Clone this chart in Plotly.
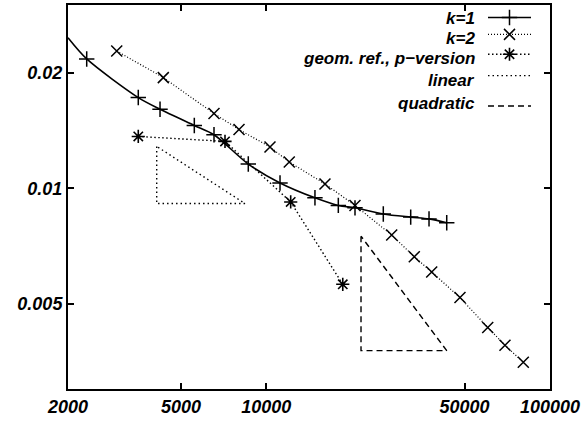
import plotly.graph_objects as go

# ---------------- data ----------------
k1_x = [2328, 3538, 4221, 5575, 6541, 8640, 11178, 14843, 17942, 20543, 25848, 32285, 37460, 43250]
k1_y = [0.02171, 0.01722, 0.01606, 0.01457, 0.01378, 0.01156, 0.01032, 0.00944, 0.00902, 0.00889,
        0.00857, 0.00841, 0.00832, 0.00813]
# the k=1 curve continues to the left edge of the plot
k1_curve_x = [2000] + k1_x
k1_curve_y = [0.02465] + k1_y

k2_x = [2970, 4335, 6541, 8013, 10304, 12050, 16100, 20543, 27670, 33240, 38280, 48160, 60320, 69390, 80520]
k2_y = [0.02277, 0.01941, 0.01565, 0.01422, 0.0128, 0.0117, 0.01026, 0.00902, 0.00755, 0.00663,
        0.00605, 0.00519, 0.00434, 0.00390, 0.00352]

geo_x = [3538, 7152, 12190, 18600]
geo_y = [0.01364, 0.01324, 0.00921, 0.00562]

lin_x = [4109, 4109, 8412, 4109]
lin_y = [0.01285, 0.00912, 0.00912, 0.01285]

quad_x = [21570, 21570, 43250, 21570]
quad_y = [0.00750, 0.003775, 0.003775, 0.00750]

x_ticks = [2000, 5000, 10000, 50000, 100000]
x_ticklabels = ["2000", "5000", "10000", "50000", "100000"]
y_ticks = [0.005, 0.01, 0.02]
y_ticklabels = ["0.005", "0.01", "0.02"]

legend_labels = ["k=1", "k=2", "geom. ref., p\u2212version", "linear", "quadratic"]

# ---------------- styling ----------------
W, H = 584, 421
ML, MR, MT, MB = 68, 34, 3, 32
FONT = dict(family="Liberation Sans, Arial, sans-serif", size=18, color="black",
            weight="bold", style="italic")
KEY_FONT = dict(family="Liberation Sans, Arial, sans-serif", size=17, color="black",
                weight="bold", style="italic")
BLACK = "black"
K2_DASH = "1px,2px"
GEO_DASH = "1.5px,2.5px"
LIN_DASH = "1.5px,3px"
QUAD_DASH = "6px,4px"
MSIZE = 11

fig = go.Figure()

# k=1
fig.add_trace(go.Scatter(x=k1_curve_x, y=k1_curve_y, mode="lines",
                         line=dict(color=BLACK, width=1.6, shape="spline", smoothing=0.8),
                         showlegend=False, hoverinfo="skip"))
fig.add_trace(go.Scatter(x=k1_x, y=k1_y, mode="markers", name=legend_labels[0],
                         marker=dict(symbol="cross-thin", size=MSIZE, line=dict(color=BLACK, width=1.5)),
                         showlegend=False))
# k=2
fig.add_trace(go.Scatter(x=k2_x, y=k2_y, mode="lines+markers", name=legend_labels[1],
                         line=dict(color=BLACK, width=1.2, dash=K2_DASH),
                         marker=dict(symbol="x-thin", size=MSIZE, line=dict(color=BLACK, width=1.5)),
                         showlegend=False))
# geometric refinement
fig.add_trace(go.Scatter(x=geo_x, y=geo_y, mode="lines+markers", name=legend_labels[2],
                         line=dict(color=BLACK, width=1.4, dash=GEO_DASH),
                         marker=dict(symbol="asterisk", size=MSIZE, line=dict(color=BLACK, width=1.6)),
                         showlegend=False))
# slope triangles
fig.add_trace(go.Scatter(x=lin_x, y=lin_y, mode="lines", name=legend_labels[3],
                         line=dict(color=BLACK, width=1.4, dash=LIN_DASH), showlegend=False))
fig.add_trace(go.Scatter(x=quad_x, y=quad_y, mode="lines", name=legend_labels[4],
                         line=dict(color=BLACK, width=1.4, dash=QUAD_DASH), showlegend=False))

# ---------------- gnuplot-style key (text right, sample left) ----------------
plot_w = W - ML - MR
plot_h = H - MT - MB
def px(xp):
    return (xp - ML) / plot_w
def py(yp):
    return (H - MB - yp) / plot_h

key_text_right = 476
key_line_x0, key_line_x1 = 488, 531
key_line_y = [15.5, 32.5, 52.5, 74, 104.5]
key_text_y = [17, 37, 56.5, 78.5, 102]
key_styles = [
    dict(line=dict(color=BLACK, width=1.6), marker=dict(symbol="cross-thin", size=MSIZE, line=dict(color=BLACK, width=1.5))),
    dict(line=dict(color=BLACK, width=1.2, dash=K2_DASH), marker=dict(symbol="x-thin", size=MSIZE, line=dict(color=BLACK, width=1.5))),
    dict(line=dict(color=BLACK, width=1.4, dash=GEO_DASH), marker=dict(symbol="asterisk", size=MSIZE, line=dict(color=BLACK, width=1.6))),
    dict(line=dict(color=BLACK, width=1.4, dash=LIN_DASH), marker=None),
    dict(line=dict(color=BLACK, width=1.4, dash=QUAD_DASH), marker=None),
]
for lab, ly, ty, st in zip(legend_labels, key_line_y, key_text_y, key_styles):
    fig.add_trace(go.Scatter(x=[px(key_line_x0), px(key_line_x1)], y=[py(ly), py(ly)],
                             mode="lines", line=st["line"], xaxis="x2", yaxis="y2",
                             showlegend=False, hoverinfo="skip"))
    if st["marker"] is not None:
        fig.add_trace(go.Scatter(x=[px((key_line_x0 + key_line_x1) / 2)], y=[py(ly)],
                                 mode="markers", marker=st["marker"], xaxis="x2", yaxis="y2",
                                 showlegend=False, hoverinfo="skip"))
    fig.add_annotation(text=lab, xref="paper", yref="paper", x=px(key_text_right), y=py(ty),
                       xanchor="right", yanchor="middle", showarrow=False, font=KEY_FONT,
                       borderpad=0)

axis_common = dict(showgrid=False, zeroline=False, showline=True, linecolor=BLACK, linewidth=2,
                   mirror="ticks", ticks="inside", ticklen=6, tickwidth=1.5, tickcolor=BLACK,
                   tickfont=FONT)

fig.update_layout(
    width=W, height=H,
    margin=dict(l=ML, r=MR, t=MT, b=MB, pad=0),
    paper_bgcolor="white", plot_bgcolor="white",
    showlegend=False,
    xaxis=dict(type="log", range=[3.30103, 5.0], tickvals=x_ticks, ticktext=x_ticklabels,
               **axis_common),
    yaxis=dict(type="log", range=[-2.5229, -1.5229], tickvals=y_ticks, ticktext=y_ticklabels,
               **axis_common),
    xaxis2=dict(overlaying="x", range=[0, 1], visible=False, fixedrange=True),
    yaxis2=dict(overlaying="y", range=[0, 1], visible=False, fixedrange=True),
)

fig.write_html("out.html")
